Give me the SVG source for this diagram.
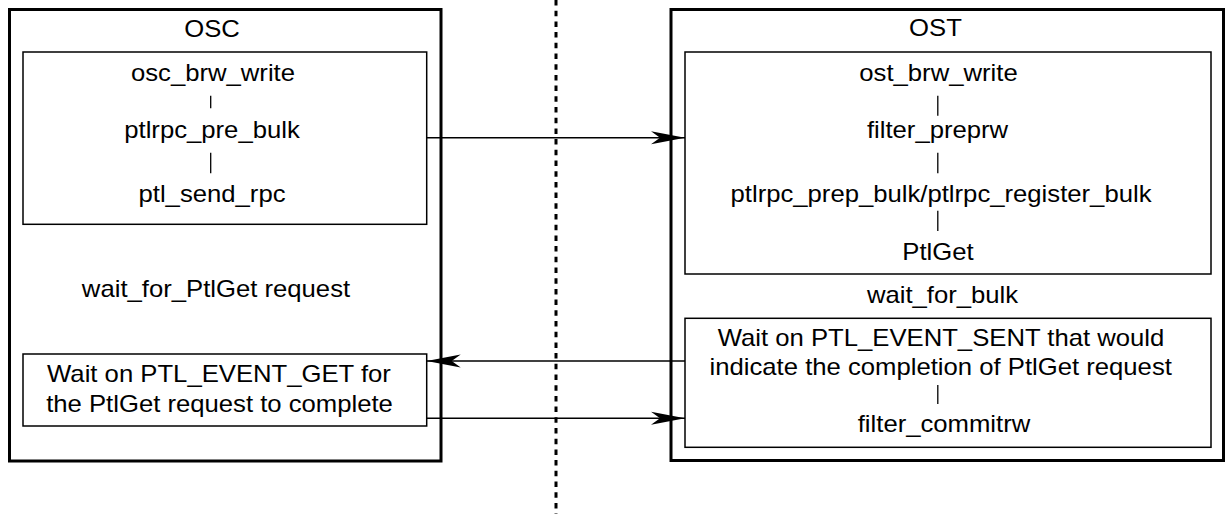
<svg xmlns="http://www.w3.org/2000/svg" width="1227" height="514" viewBox="0 0 1227 514">
  <style>
    .outer { fill: #fff; stroke: #000; stroke-width: 3; }
    .inner { fill: #fff; stroke: #000; stroke-width: 1.5; }
    .t { font-family: "Liberation Sans", Arial, Helvetica, sans-serif; font-size: 24px; fill: #000; text-anchor: middle; }
    .bar { stroke: #000; stroke-width: 1.3; }
    .conn { stroke: #000; stroke-width: 1.4; fill: none; }
    .div { stroke: #000; stroke-width: 3; stroke-dasharray: 5.5 5.2; }
  </style>
  <defs>
    <marker id="ah" markerUnits="userSpaceOnUse" markerWidth="36" markerHeight="16" viewBox="0 -8 36 16" refX="34" refY="0" orient="auto">
      <path d="M34,0 L0,-6.5 L9,0 L0,6.5 Z" fill="#000"/>
    </marker>
  </defs>
  <rect width="1227" height="514" fill="#fff"/>

  <g id="osc">
    <rect class="outer" x="9.5" y="9.5" width="431.5" height="451.5"/>
    <text class="t" transform="translate(212,37) scale(1.07,1)">OSC</text>
  </g>
  <g id="osc-send">
    <rect class="inner" x="23" y="52" width="403.7" height="172.3"/>
    <text class="t" transform="translate(213,81) scale(1.07,1)">osc_brw_write</text>
    <line class="bar" x1="210.7" y1="95.7" x2="210.7" y2="108.3"/>
    <text class="t" transform="translate(212,137.7) scale(1.07,1)">ptlrpc_pre_bulk</text>
    <line class="bar" x1="210.7" y1="152.7" x2="210.7" y2="173.3"/>
    <text class="t" transform="translate(212,202.3) scale(1.07,1)">ptl_send_rpc</text>
  </g>
  <g id="osc-wait-label">
    <text class="t" transform="translate(216,296.7) scale(1.07,1)">wait_for_PtlGet request</text>
  </g>
  <g id="osc-wait-get">
    <rect class="inner" x="23" y="354" width="403.7" height="72"/>
    <text class="t" transform="translate(219,382.3) scale(1.07,1)">Wait on PTL_EVENT_GET for</text>
    <text class="t" transform="translate(219.5,412.3) scale(1.07,1)">the PtlGet request to complete</text>
  </g>

  <g id="ost">
    <rect class="outer" x="671" y="9.5" width="552.5" height="451"/>
    <text class="t" transform="translate(935.5,36) scale(1.07,1)">OST</text>
  </g>
  <g id="ost-prep">
    <rect class="inner" x="685" y="52" width="526" height="222"/>
    <text class="t" transform="translate(938.5,81) scale(1.07,1)">ost_brw_write</text>
    <line class="bar" x1="937.8" y1="95.7" x2="937.8" y2="115.7"/>
    <text class="t" transform="translate(937.5,137.7) scale(1.07,1)">filter_preprw</text>
    <line class="bar" x1="937.8" y1="152.7" x2="937.8" y2="173.3"/>
    <text class="t" transform="translate(941,201.7) scale(1.07,1)">ptlrpc_prep_bulk/ptlrpc_register_bulk</text>
    <line class="bar" x1="937.8" y1="210.7" x2="937.8" y2="231"/>
    <text class="t" transform="translate(938,260) scale(1.07,1)">PtlGet</text>
  </g>
  <g id="ost-wait-label">
    <text class="t" transform="translate(942.5,303.3) scale(1.07,1)">wait_for_bulk</text>
  </g>
  <g id="ost-wait-sent">
    <rect class="inner" x="685" y="318.3" width="526" height="129"/>
    <text class="t" transform="translate(941,345.7) scale(1.07,1)">Wait on PTL_EVENT_SENT that would</text>
    <text class="t" transform="translate(940.7,375) scale(1.07,1)">indicate the completion of PtlGet request</text>
    <line class="bar" x1="937.8" y1="385" x2="937.8" y2="404"/>
    <text class="t" transform="translate(944,432.3) scale(1.07,1)">filter_commitrw</text>
  </g>

  <g id="connectors">
    <line class="div" x1="556" y1="0" x2="556" y2="514"/>
    <line class="conn" x1="426.7" y1="137.7" x2="685" y2="137.7" marker-end="url(#ah)"/>
    <line class="conn" x1="685" y1="361" x2="426.7" y2="361" marker-end="url(#ah)"/>
    <line class="conn" x1="426.7" y1="418.3" x2="685" y2="418.3" marker-end="url(#ah)"/>
  </g>
</svg>
